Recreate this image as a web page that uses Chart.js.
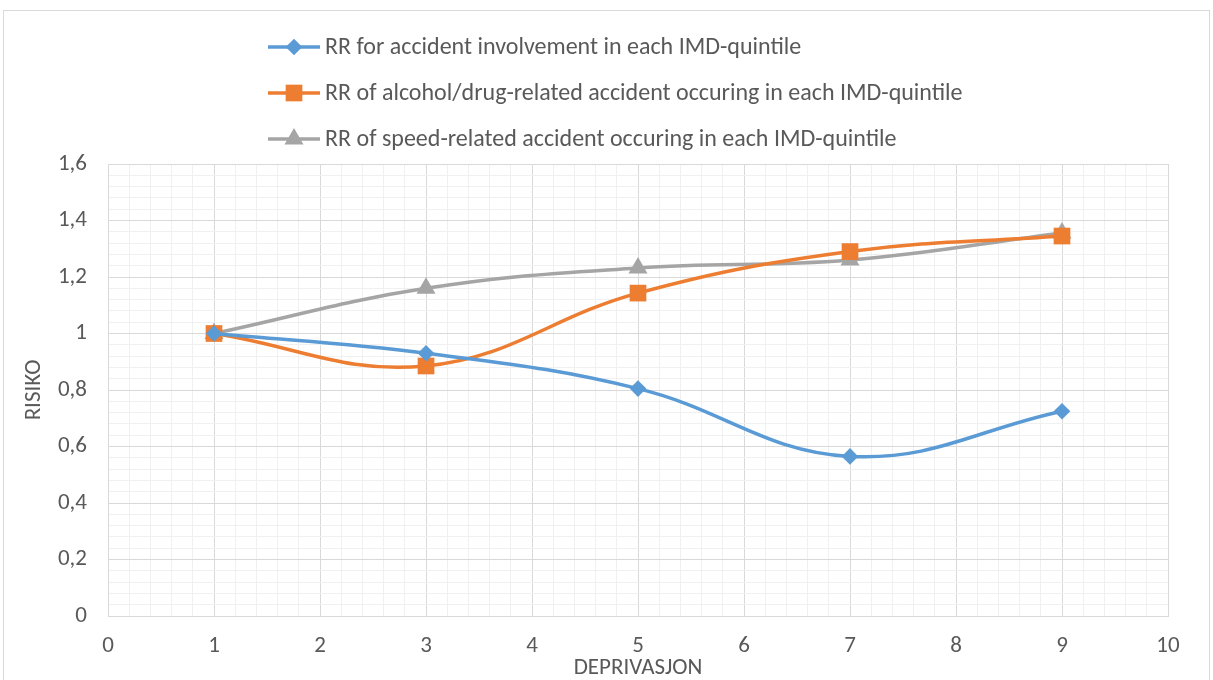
<!DOCTYPE html>
<html>
<head>
<meta charset="utf-8">
<script src="https://cdn.jsdelivr.net/npm/chart.js@4/dist/chart.umd.min.js"></script>
<style>
  html, body { margin: 0; padding: 0; background: #fff; }
  #frame { position: absolute; left: 3px; top: 10px; width: 1205px; height: 700px; border: 1px solid #d9d9d9; }
  #wrap { position: absolute; left: 0; top: 0; width: 1213px; height: 680px; }
</style>
</head>
<body>
<div id="frame"></div>
<div id="wrap"><canvas id="chart" width="1213" height="680"></canvas></div>
<script>
// Deprivation level (x) for each observation
const deprivation = [1, 3, 5, 7, 9];

// Relative risk per series
const accidentInvolvement = [1.0, 0.93, 0.805, 0.565, 0.725];
const alcoholDrugRelated = [1.0, 0.885, 1.143, 1.29, 1.345];
const speedRelated = [1.0, 1.16, 1.232, 1.26, 1.356];

const seriesNames = [
  'RR for accident involvement in each IMD-quintile',
  'RR of alcohol/drug-related accident occuring in each IMD-quintile',
  'RR of speed-related accident occuring in each IMD-quintile'
];

const xAxisTitle = 'DEPRIVASJON';
const yAxisTitle = 'RISIKO';

const FONT = "Carlito, Calibri, 'Liberation Sans Narrow', 'Open Sans', sans-serif";
const TEXT = '#595959';
const MAJOR = '#d9d9d9';
const MINOR = '#f0f0f0';

function toPoints(values) {
  return deprivation.map((x, i) => ({ x: x, y: values[i] }));
}

function isMultiple(v, step) {
  const q = v / step;
  return Math.abs(q - Math.round(q)) < 1e-6;
}

// Legend drawn as a vertical stack of entries above the plot
const stackedLegend = {
  id: 'stackedLegend',
  afterDraw(chart) {
    const ctx = chart.ctx;
    const rowsY = [47, 93, 139];
    const x0 = 268, x1 = 320, textX = 325;
    ctx.save();
    chart.data.datasets.forEach((ds, i) => {
      const y = rowsY[i];
      ctx.strokeStyle = ds.borderColor;
      ctx.lineWidth = ds.borderWidth;
      ctx.beginPath();
      ctx.moveTo(x0, y);
      ctx.lineTo(x1, y);
      ctx.stroke();
      ctx.fillStyle = ds.pointBackgroundColor;
      ctx.strokeStyle = ds.pointBorderColor;
      Chart.helpers.drawPoint(ctx, {
        pointStyle: ds.pointStyle,
        radius: ds.pointRadius,
        rotation: 0,
        borderWidth: 0
      }, (x0 + x1) / 2, y);
      ctx.fillStyle = TEXT;
      ctx.font = '24px ' + FONT;
      ctx.textBaseline = 'middle';
      ctx.textAlign = 'left';
      ctx.fillText(ds.label, textX, y + 1);
    });
    ctx.restore();
  }
};

function series(label, values, color, style, radius) {
  return {
    label: label,
    data: toPoints(values),
    borderColor: color,
    backgroundColor: color,
    pointBackgroundColor: color,
    pointBorderColor: color,
    pointBorderWidth: 0,
    pointStyle: style,
    pointRadius: radius,
    pointHoverRadius: radius,
    borderWidth: 3.5,
    tension: 0.4,
    cubicInterpolationMode: 'default',
    fill: false
  };
}

new Chart(document.getElementById('chart'), {
  type: 'line',
  data: {
    datasets: [
      series(seriesNames[0], accidentInvolvement, '#5b9bd5', 'rectRot', 8.3),
      series(seriesNames[1], alcoholDrugRelated, '#ed7d31', 'rect', 11.8),
      series(seriesNames[2], speedRelated, '#a5a5a5', 'triangle', 11)
    ]
  },
  plugins: [stackedLegend],
  options: {
    responsive: false,
    animation: false,
    events: [],
    layout: { padding: { left: 23, right: 45, top: 164, bottom: 0 } },
    plugins: { legend: { display: false }, tooltip: { enabled: false } },
    scales: {
      x: {
        type: 'linear',
        min: 0, max: 10,
        afterFit(scale) { scale.height = 64; },
        ticks: {
          stepSize: 0.2,
          autoSkip: false,
          maxRotation: 0,
          padding: 16,
          color: TEXT,
          font: { family: FONT, size: 23 },
          callback: v => isMultiple(v, 1) ? String(Math.round(v)) : ''
        },
        grid: {
          drawTicks: false,
          color: c => isMultiple(c.tick.value, 1) ? MAJOR : MINOR,
          lineWidth: 1
        },
        border: { display: true, color: MAJOR },
        title: {
          display: true,
          text: xAxisTitle,
          color: TEXT,
          font: { family: FONT, size: 23, lineHeight: 1 },
          padding: { top: 0, bottom: 0 }
        }
      },
      y: {
        min: 0, max: 1.6,
        afterFit(scale) { scale.width = 85; },
        ticks: {
          stepSize: 0.04,
          autoSkip: false,
          padding: 21,
          color: TEXT,
          font: { family: FONT, size: 23 },
          callback: v => isMultiple(v, 0.2) ? String(Math.round(v * 10) / 10).replace('.', ',') : ''
        },
        grid: {
          drawTicks: false,
          color: c => isMultiple(c.tick.value, 0.2) ? MAJOR : MINOR,
          lineWidth: 1
        },
        border: { display: true, color: MAJOR },
        title: {
          display: true,
          text: yAxisTitle,
          color: TEXT,
          font: { family: FONT, size: 23, lineHeight: 1 },
          padding: { top: 0, bottom: 0 }
        }
      }
    }
  }
});
</script>
</body>
</html>
